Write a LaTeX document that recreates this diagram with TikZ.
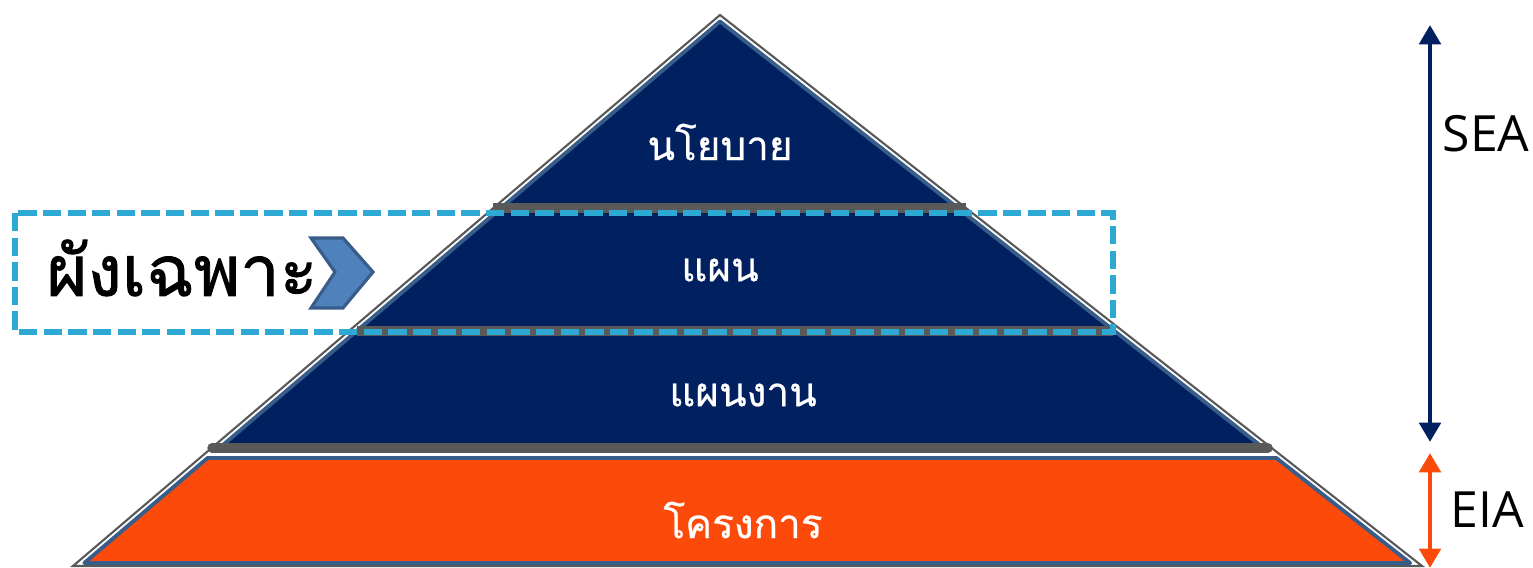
\documentclass[tikz,border=0pt]{standalone}
\usepackage{fontspec}
\newfontfamily\thaifont[Script=Thai,FakeBold=0.6]{Loma}
\newfontfamily\thaiheavy[Script=Thai,FakeBold=1.3]{Loma}
\newfontfamily\latinfont{Open Sans}
\usetikzlibrary{arrows.meta}
\definecolor{navy}{HTML}{002060}
\definecolor{edgeblue}{HTML}{385D8A}
\definecolor{chevblue}{HTML}{4F81BD}
\definecolor{sepgray}{HTML}{595959}
\definecolor{dashcyan}{HTML}{2EA9D3}
\definecolor{projorange}{HTML}{FC4A0A}
\begin{document}
\begin{tikzpicture}[x=0.01cm,y=-0.01cm,
    layer/.style={fill=navy,draw=edgeblue,line width=1.1pt,line join=round},
    sep/.style={draw=sepgray,line width=2.7pt},
    lt/.style={text=white,font=\thaifont\fontsize{11.5}{14}\selectfont},
    side/.style={font=\latinfont\fontsize{14.2}{17}\selectfont},
    tip/.style={line width=1.4pt,{Triangle[width=6pt,length=5.5pt]}-{Triangle[width=6pt,length=5.5pt]}}]
    \useasboundingbox (0,0) rectangle (1533,568);
    % outer outline
    \draw[sepgray,line width=0.6pt] (73,566) -- (720,15) -- (1422,566) -- cycle;
    % layers of the pyramid
    \draw[layer] (720,21.5) -- (957.8,208) -- (501.1,208) -- cycle;
    \draw[layer] (501.1,208) -- (957.8,208) -- (1114.5,331) -- (356.7,331) -- cycle;
    \draw[layer] (356.7,331) -- (1114.5,331) -- (1263.5,448) -- (219.4,448) -- cycle;
    \draw[layer,fill=projorange] (207.6,458) -- (1276.3,458) -- (1410.1,563) -- (84.3,563) -- cycle;
    \draw[sep] (493,208) -- (966,208);
    \draw[sep] (357,331) -- (1113,331);
    \draw[sep,line cap=round] (212,448) -- (1268,448);
    % labels
    \node[lt] (policy) at (720,142) {นโยบาย};
    \node[lt] (plan) at (720,270) {แผน};
    \node[lt] (program) at (743,395) {แผนงาน};
    \node[lt] (project) at (743,520) {โครงการ};
    % specific plan box
    \draw[dashcyan,line width=1.5pt,dash pattern=on 5.2pt off 1.8pt] (15,213) rectangle (1113,332);
    \node[font=\thaiheavy\fontsize{20}{24}\selectfont] (zone) at (182,268) {ผังเฉพาะ};
    \draw[fill=chevblue,draw=edgeblue,line width=0.9pt,line join=miter]
        (311,238) -- (343,238) -- (373,272) -- (343,308) -- (311,308) -- (335,272) -- cycle;
    % assessment arrows
    \coordinate (seatop) at (1430,25);
    \coordinate (seabot) at (1430,442);
    \coordinate (eiatop) at (1430,453);
    \coordinate (eiabot) at (1430,568);
    \draw[navy,tip] (seatop) -- (seabot);
    \draw[projorange,tip] (eiatop) -- (eiabot);
    \node[side] (sea) at (1486,134) {SEA};
    \node[side] (eia) at (1487,510) {EIA};
\end{tikzpicture}
\end{document}
